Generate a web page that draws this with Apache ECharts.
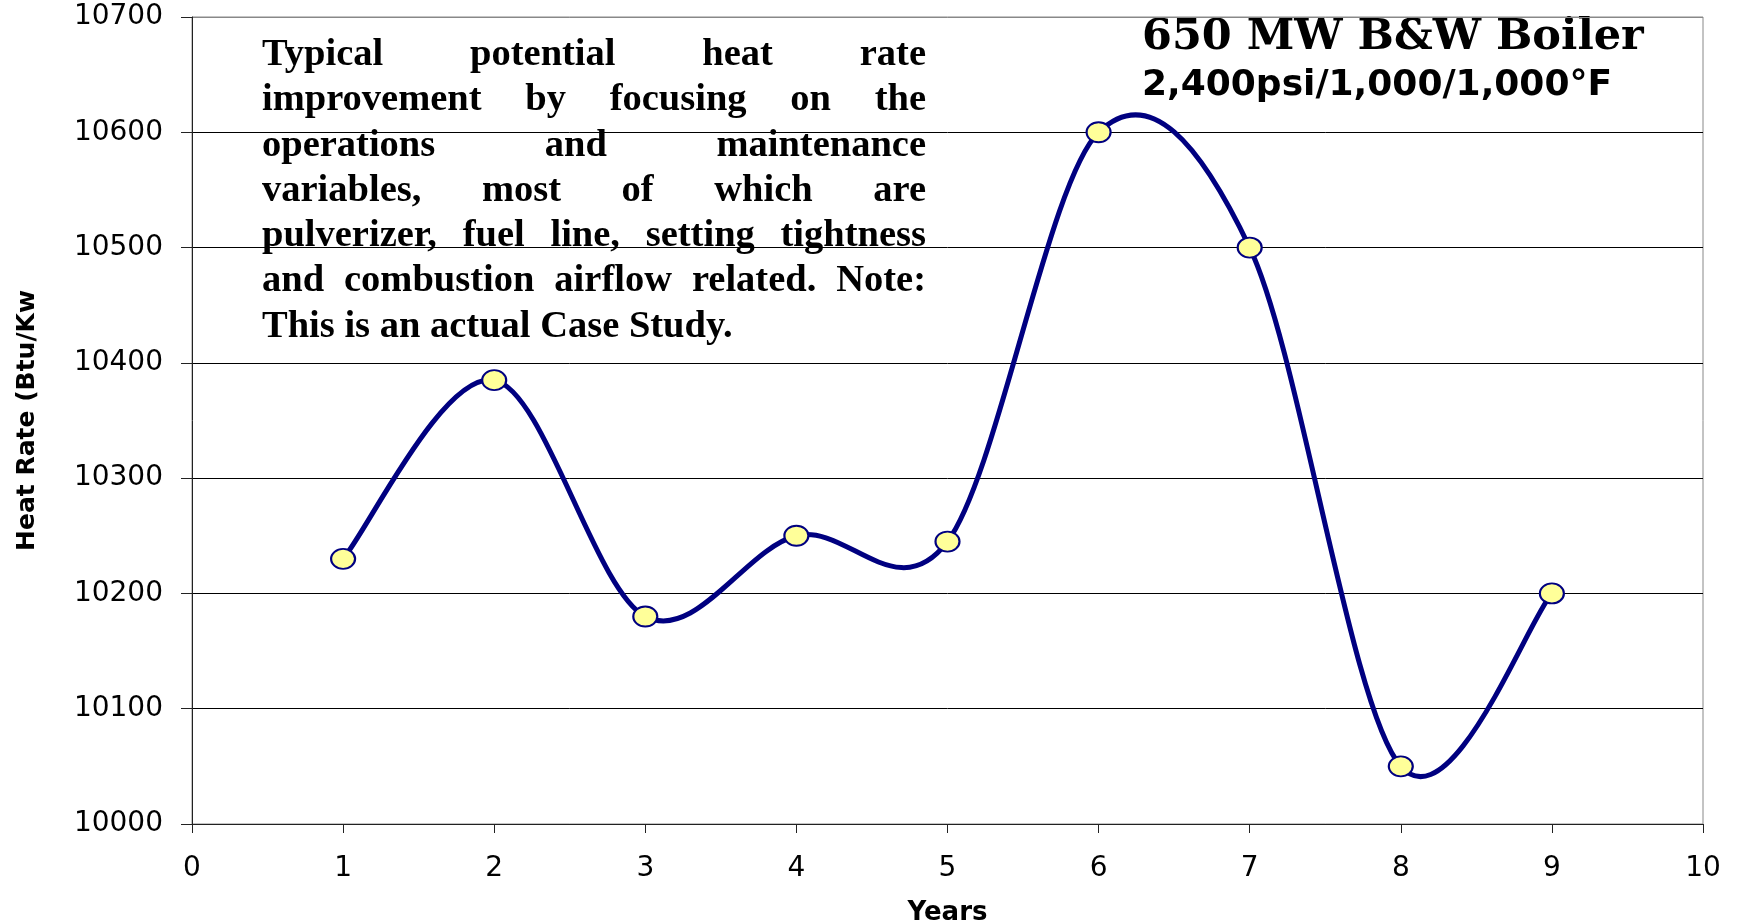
<!DOCTYPE html>
<html>
<head>
<meta charset="utf-8">
<script src="https://cdn.jsdelivr.net/npm/echarts@6/dist/echarts.min.js"></script>
<style>
  html, body { margin: 0; padding: 0; background: #fff; }
  #main { width: 1737px; height: 924px; }
</style>
</head>
<body>
<div id="main"></div>
<script>
// 数据
var years = [1, 2, 3, 4, 5, 6, 7, 8, 9];
var heatRate = [10230, 10385, 10180, 10250, 10245, 10600, 10500, 10050, 10200];
var xRange = [0, 10];
var yRange = [10000, 10700];

var titleLines = ['650 MW B&W Boiler', '2,400psi/1,000/1,000°F'];
var noteLines = [
  'Typical potential heat rate',
  'improvement by focusing on the',
  'operations and maintenance',
  'variables, most of which are',
  'pulverizer, fuel line, setting tightness',
  'and combustion airflow related. Note:',
  'This is an actual Case Study.'
];

var noteFont = '700 38.5px "Liberation Serif"';
var ctx = document.createElement('canvas').getContext('2d');
ctx.font = noteFont;

// 两端对齐的说明文字
function noteGraphics() {
  var left = 262, right = 926, firstBase = 65, lineGap = 45.3;
  var out = [];
  noteLines.forEach(function (line, i) {
    var words = line.split(' ');
    var y = firstBase + i * lineGap - 10;
    var widths = words.map(function (w) { return ctx.measureText(w).width; });
    var total = widths.reduce(function (a, b) { return a + b; }, 0);
    var gap = ctx.measureText(' ').width;
    if (i < noteLines.length - 1 && words.length > 1) {
      gap = (right - left - total) / (words.length - 1);
    }
    var x = left;
    words.forEach(function (w, k) {
      out.push({
        type: 'text', silent: true, x: x, y: y,
        style: { text: w, fill: '#000', font: noteFont, verticalAlign: 'middle', align: 'left' }
      });
      x += widths[k] + gap;
    });
  });
  return out;
}

// Excel风格的平滑曲线 (Catmull-Rom)
function pt(api, k) {
  k = Math.max(0, Math.min(years.length - 1, k));
  return api.coord([years[k], heatRate[k]]);
}
function renderCurve(params, api) {
  var i = params.dataIndex;
  if (i >= years.length - 1) return null;
  var p0 = pt(api, i - 1), p1 = pt(api, i), p2 = pt(api, i + 1), p3 = pt(api, i + 2);
  return {
    type: 'bezierCurve',
    shape: {
      x1: p1[0], y1: p1[1], x2: p2[0], y2: p2[1],
      cpx1: p1[0] + (p2[0] - p0[0]) / 6, cpy1: p1[1] + (p2[1] - p0[1]) / 6,
      cpx2: p2[0] - (p3[0] - p1[0]) / 6, cpy2: p2[1] - (p3[1] - p1[1]) / 6
    },
    style: { stroke: '#000080', lineWidth: 5, fill: null, lineCap: 'round' }
  };
}

var points = years.map(function (x, i) { return [x, heatRate[i]]; });

var myChart = echarts.init(document.getElementById('main'));
var option = {
  animation: false,
  grid: {
    left: 192, top: 17, right: 34, bottom: 100,
    outerBoundsMode: 'none', containLabel: false,
    show: true, borderColor: '#888', borderWidth: 1
  },
  xAxis: {
    type: 'value', min: xRange[0], max: xRange[1], interval: 1,
    name: 'Years', nameLocation: 'middle', nameGap: 76,
    nameTextStyle: { fontFamily: 'DejaVu Sans', fontWeight: 'bold', fontSize: 26, color: '#000' },
    axisLine: { lineStyle: { color: '#222', width: 1 } },
    axisTick: { show: true, length: 9, lineStyle: { color: '#222' } },
    axisLabel: { margin: 31, fontFamily: 'DejaVu Sans', fontSize: 28, color: '#000' },
    splitLine: { show: false }
  },
  yAxis: {
    type: 'value', min: yRange[0], max: yRange[1], interval: 100,
    name: 'Heat Rate (Btu/Kw', nameLocation: 'middle', nameGap: 152, nameRotate: 90,
    nameTextStyle: { fontFamily: 'DejaVu Sans', fontWeight: 'bold', fontSize: 25, color: '#000' },
    axisLine: { show: true, lineStyle: { color: '#222', width: 1 } },
    axisTick: { show: true, length: 11, lineStyle: { color: '#222' } },
    axisLabel: {
      margin: 29, fontFamily: 'DejaVu Sans', fontSize: 28, color: '#000',
      formatter: function (v) { return String(v); }
    },
    splitLine: {
      show: true,
      lineStyle: { color: ['#000', '#000', '#000', '#000', '#000', '#000', '#000', '#888'], width: 1 }
    }
  },
  series: [
    {
      type: 'custom',
      data: points,
      encode: { x: 0, y: 1 },
      renderItem: renderCurve,
      z: 2
    },
    {
      type: 'scatter',
      data: points,
      symbol: 'circle',
      symbolSize: [24, 20],
      itemStyle: { color: '#FFFF99', borderColor: '#000080', borderWidth: 2, opacity: 1 },
      z: 3
    }
  ],
  graphic: [
    {
      type: 'text', left: 1142, top: 16, silent: true,
      style: { text: titleLines[0], font: '700 43px "DejaVu Serif"', fill: '#000' }
    },
    {
      type: 'text', left: 1142, top: 68, silent: true,
      style: { text: titleLines[1], font: '700 36px "DejaVu Sans"', fill: '#000' }
    }
  ].concat(noteGraphics())
};
myChart.setOption(option);
window.addEventListener('resize', function () { myChart.resize(); });
</script>
</body>
</html>
